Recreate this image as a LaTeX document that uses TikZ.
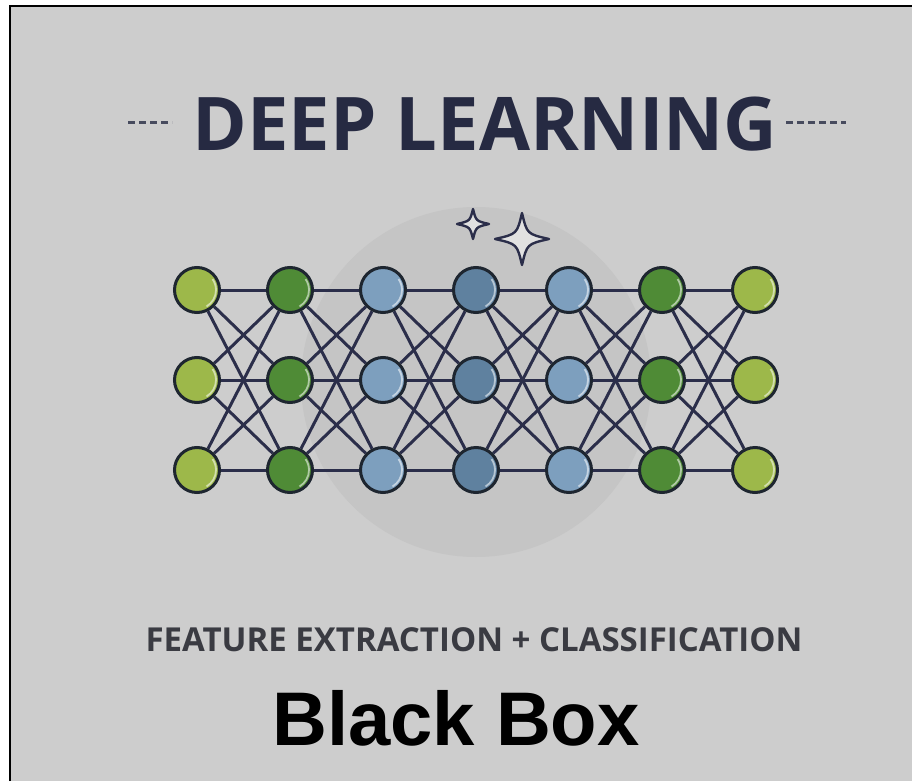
\documentclass[tikz,border=0pt]{standalone}
\usepackage{fontspec}
\setmainfont{Open Sans}
\newfontfamily\boxfont{Liberation Sans}
\usetikzlibrary{backgrounds}

\definecolor{paper}{HTML}{CDCDCD}
\definecolor{halo}{HTML}{C5C5C5}
\definecolor{ink}{HTML}{262A42}
\definecolor{wire}{HTML}{2B2E4A}
\definecolor{rim}{HTML}{1E2630}
\definecolor{lime}{HTML}{9DB84A}
\definecolor{leaf}{HTML}{4F8B36}
\definecolor{sky}{HTML}{7D9FBE}
\definecolor{steel}{HTML}{5F819F}
\definecolor{subink}{HTML}{3A3B42}

\tikzset{
  neuron/.style={circle, draw=rim, line width=3pt, minimum size=45pt, inner sep=0pt,
    path picture={\draw[white, opacity=.55, line width=1.8pt]
      (path picture bounding box.center) ++(-60:19pt) arc[start angle=-60, end angle=35, radius=19pt];}},
  link/.style={draw=wire, line width=3pt},
  sparkle/.style={draw=wire, line width=2.4pt, fill=paper!60!white, line join=round},
  rule/.style={draw=ink!80!paper, line width=3pt, dash pattern=on 7pt off 4pt}
}

\begin{document}
\begin{tikzpicture}[x=1pt, y=-1pt]
  \useasboundingbox (0,0) rectangle (912,781);

  % title
  \node[font=\fontsize{74}{80}\selectfont\bfseries, text=ink, inner sep=0pt] (title) at (485,124) {DEEP LEARNING};
  \draw[rule] (128,123) -- (172,123);
  \draw[rule] (786,123) -- (846,123);

  % network nodes
  \foreach \c/\x/\col in {1/197/lime, 2/290/leaf, 3/383/sky, 4/476/steel, 5/569/sky, 6/662/leaf, 7/755/lime}
    \foreach \r/\y in {1/290, 2/380, 3/470}
      \node[neuron, fill=\col] (n\c\r) at (\x,\y) {};

  \begin{pgfonlayer}{background}
    % page, panel and its frame
    \fill[white] (0,0) rectangle (912,781);
    \fill[paper] (10,6) rectangle (912,781);
    \draw[black, line width=2.4pt] (10,781) -- (10,6) -- (912,6);
    % shaded disc behind the hidden layers
    \fill[halo] (476,382) circle[radius=175pt];
    % full connections between neighbouring layers
    \foreach \c [evaluate=\c as \d using int(\c+1)] in {1,...,6}
      \foreach \i in {1,2,3}
        \foreach \j in {1,2,3}
          \draw[link] (n\c\i) -- (n\d\j);
  \end{pgfonlayer}

  % sparkles
  \draw[sparkle] (473,209) .. controls (476,221) .. (489,224) .. controls (476,227) .. (473,239)
                 .. controls (470,227) .. (457,224) .. controls (470,221) .. cycle;
  \draw[sparkle] (522,213) .. controls (527,234) .. (549,239) .. controls (527,244) .. (522,265)
                 .. controls (517,244) .. (495,239) .. controls (517,234) .. cycle;

  % captions
  \node[font=\fontsize{33}{38}\selectfont\bfseries, text=subink, inner sep=0pt] (sub) at (474,640) {FEATURE EXTRACTION + CLASSIFICATION};
  \node[font=\boxfont\fontsize{76}{84}\selectfont\bfseries, text=black, inner sep=0pt] (bb) at (456,718) {Black Box};
\end{tikzpicture}
\end{document}
